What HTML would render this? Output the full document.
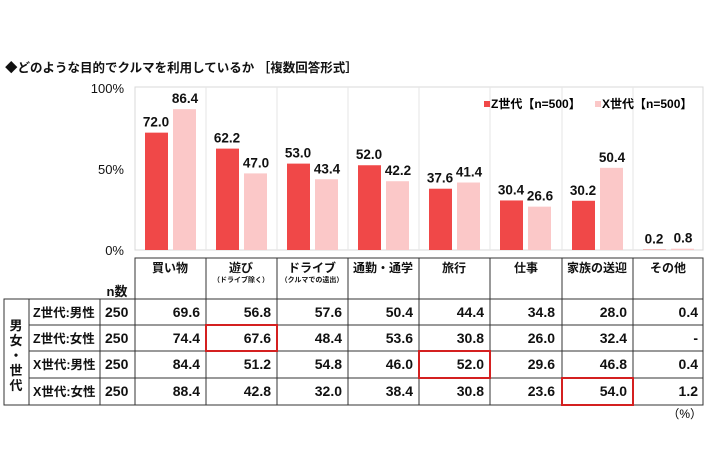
<!DOCTYPE html>
<html><head><meta charset="utf-8"><style>
body{margin:0;width:710px;height:474px;background:#fff;font-family:"Liberation Sans","Noto Sans CJK JP",sans-serif;position:relative;overflow:hidden;color:#111}
.a{position:absolute;white-space:nowrap}
.b{font-weight:bold}
</style></head><body>
<div class="a b" style="left:5px;top:57px;font-size:12.5px">◆どのような目的でクルマを利用しているか ［複数回答形式］</div>
<svg class="a" style="left:0;top:0" width="710" height="474">
<g font-family="Liberation Sans, Noto Sans CJK JP, sans-serif" font-size="13" fill="#111" text-anchor="middle">
<text x="124" y="93" text-anchor="end">100%</text>
<text x="124" y="174" text-anchor="end">50%</text>
<text x="124" y="255" text-anchor="end">0%</text>
</g>
<rect x="135" y="87" width="568" height="163" fill="none" stroke="#d8d8d8"/>
<g stroke="#e6e6e6">
<line x1="206" y1="87" x2="206" y2="250"/><line x1="277" y1="87" x2="277" y2="250"/><line x1="348" y1="87" x2="348" y2="250"/><line x1="419" y1="87" x2="419" y2="250"/><line x1="490" y1="87" x2="490" y2="250"/><line x1="562" y1="87" x2="562" y2="250"/><line x1="633" y1="87" x2="633" y2="250"/>
</g>
<g id="bars"></g>
<g font-family="Liberation Sans, Noto Sans CJK JP, sans-serif" font-size="13.5" font-weight="bold" fill="#111" text-anchor="middle" id="lbl"></g>
<rect x="484" y="101" width="6" height="6" fill="#f04848"/>
<text x="491" y="108" font-size="12" font-weight="bold" font-family="Liberation Sans, Noto Sans CJK JP, sans-serif">Z世代【n=500】</text>
<rect x="595" y="101" width="6" height="6" fill="#fbc8c8"/>
<text x="602" y="108" font-size="12" font-weight="bold" font-family="Liberation Sans, Noto Sans CJK JP, sans-serif">X世代【n=500】</text>
<g stroke="#333" stroke-width="1" fill="none">
<rect x="135" y="258" width="568" height="147"/>
<rect x="4" y="299" width="131" height="106"/>
<line x1="29" y1="299" x2="29" y2="405"/><line x1="100" y1="299" x2="100" y2="405"/>
<line x1="29" y1="325" x2="703" y2="325"/><line x1="29" y1="351" x2="703" y2="351"/><line x1="29" y1="378" x2="703" y2="378"/>
<line x1="135" y1="299" x2="703" y2="299"/>
<line x1="206" y1="258" x2="206" y2="405"/><line x1="277" y1="258" x2="277" y2="405"/><line x1="348" y1="258" x2="348" y2="405"/><line x1="419" y1="258" x2="419" y2="405"/><line x1="490" y1="258" x2="490" y2="405"/><line x1="562" y1="258" x2="562" y2="405"/><line x1="633" y1="258" x2="633" y2="405"/>
</g>
<g stroke="#d42020" stroke-width="2" fill="none">
<rect x="206" y="325" width="71" height="26"/><rect x="419" y="351" width="71" height="27"/><rect x="562" y="378" width="71" height="27"/>
</g>
<g font-family="Liberation Sans, Noto Sans CJK JP, sans-serif" font-size="12" font-weight="bold" fill="#111" text-anchor="middle">
<text x="170" y="272">買い物</text><text x="241" y="272">遊び</text><text x="312" y="272">ドライブ</text><text x="383" y="272">通勤・通学</text><text x="454" y="272">旅行</text><text x="526" y="272">仕事</text><text x="597" y="272">家族の送迎</text><text x="668" y="272">その他</text>
<text x="241" y="282" font-size="7">（ドライブ除く）</text><text x="312" y="282" font-size="7">（クルマでの遠出）</text>
<text x="117" y="296" font-size="13">n数</text>
<text x="16" y="330" font-size="13">男</text><text x="16" y="345" font-size="13">女</text><text x="16" y="360" font-size="13">・</text><text x="16" y="375" font-size="13">世</text><text x="16" y="390" font-size="13">代</text>
</g>
<g id="tbl" font-family="Liberation Sans, Noto Sans CJK JP, sans-serif" font-size="14" font-weight="bold" fill="#111"></g>
<text x="702" y="418" text-anchor="end" font-size="12" font-family="Liberation Sans, Noto Sans CJK JP, sans-serif">（%）</text>
</svg>
<script>
var z=[72.0,62.2,53.0,52.0,37.6,30.4,30.2,0.2],x=[86.4,47.0,43.4,42.2,41.4,26.6,50.4,0.8];
var xs=[135,206,277,348,419,490,562,633],s="",l="";
for(var i=0;i<8;i++){var b=xs[i];
var hz=z[i]*1.63,hx=x[i]*1.63;
s+='<rect x="'+(b+10)+'" y="'+(250-hz)+'" width="23" height="'+hz+'" fill="#f04848"/>';
s+='<rect x="'+(b+38)+'" y="'+(250-hx)+'" width="23" height="'+hx+'" fill="#fbc8c8"/>';
l+='<text x="'+(b+21)+'" y="'+(250-hz-6)+'">'+z[i].toFixed(1)+'</text>';
l+='<text x="'+(b+50)+'" y="'+(250-hx-6)+'">'+x[i].toFixed(1)+'</text>';}
document.getElementById('bars').innerHTML=s;document.getElementById('lbl').innerHTML=l;
var rows=[["Z世代:男性",[69.6,56.8,57.6,50.4,44.4,34.8,28.0,"0.4"]],["Z世代:女性",[74.4,67.6,48.4,53.6,30.8,26.0,32.4,"-"]],["X世代:男性",[84.4,51.2,54.8,46.0,52.0,29.6,46.8,"0.4"]],["X世代:女性",[88.4,42.8,32.0,38.4,30.8,23.6,54.0,"1.2"]]];
var ys=[317,343,369,396],t="";
rows.forEach(function(r,j){t+='<text x="33" y="'+ys[j]+'" font-size="12.5">'+r[0]+'</text><text x="105" y="'+ys[j]+'">250</text>';
r[1].forEach(function(v,i){t+='<text x="'+(xs[i]+65)+'" y="'+ys[j]+'" text-anchor="end">'+(typeof v=="number"?v.toFixed(1):v)+'</text>';});});
document.getElementById('tbl').innerHTML=t;
</script>
</body></html>
